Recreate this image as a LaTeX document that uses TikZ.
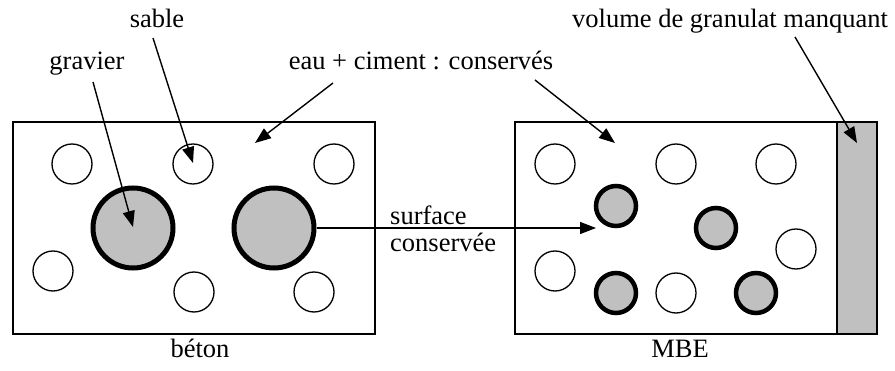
\documentclass[tikz,border=0pt]{standalone}
\usepackage{fontspec}
\setmainfont{Liberation Serif}[Ligatures=TeX]
\newfontfamily\tnr{Liberation Serif}
\usetikzlibrary{arrows.meta}
\definecolor{grain}{RGB}{192,192,192}
\tikzset{
  sand/.style={circle, draw, line width=1.3pt, fill=white, minimum size=40pt, inner sep=0pt},
  gravel/.style={circle, draw, line width=5pt, fill=grain, minimum size=80pt, inner sep=0pt},
  smallgravel/.style={circle, draw, line width=4.5pt, fill=grain, minimum size=40pt, inner sep=0pt},
  lbl/.style={font=\tnr\fontsize{26.5}{30}\selectfont, anchor=base, inner sep=0pt},
  arr/.style={line width=1.4pt, -{Triangle[length=16pt,width=12pt]}},
  frame/.style={draw, line width=1.4pt}
}
\begin{document}
\begin{tikzpicture}[x=1pt,y=-1pt]
\useasboundingbox (0,0) rectangle (895,371);
% boxes
\draw[frame] (13,122) rectangle (375,334);
\draw[frame, fill=grain] (837,122) rectangle (877,334);
\draw[frame] (515,122) rectangle (877,334);
% left box circles
\node[sand] (l1) at (72,164) {};
\node[sand] (l2) at (193,164) {};
\node[sand] (l3) at (334,164) {};
\node[sand] (l4) at (53,271) {};
\node[sand] (l5) at (194,292) {};
\node[sand] (l6) at (314,292) {};
\node[gravel] (g1) at (133,228) {};
\node[gravel] (g2) at (274,228) {};
% right box circles
\node[sand] (r1) at (555,164) {};
\node[sand] (r2) at (676,164) {};
\node[sand] (r3) at (776,164) {};
\node[sand] (r4) at (555,271) {};
\node[sand] (r5) at (676,293) {};
\node[sand] (r6) at (796,249) {};
\node[smallgravel] (s1) at (616,206) {};
\node[smallgravel] (s2) at (716,228) {};
\node[smallgravel] (s3) at (616,293) {};
\node[smallgravel] (s4) at (756,293) {};
% labels
\node[lbl] (sable) at (157,28) {sable};
\node[lbl] (gravier) at (87,70) {gravier};
\node[lbl] (eau) at (421,70) {eau + ciment : conservés};
\node[lbl] (vol) at (730,28) {volume de granulat manquant};
\node[lbl, anchor=base west] (surf) at (390,225) {surface};
\node[lbl, anchor=base west] (cons) at (390,252) {conservée};
\node[lbl] (beton) at (200,358) {béton};
\node[lbl] (mbe) at (680,358) {MBE};
% arrow targets
\coordinate (tg) at (133,227);
\coordinate (ts) at (193,163);
\coordinate (tel) at (255,143);
\coordinate (ter) at (615,143);
\coordinate (tv) at (857,143);
\coordinate (tsurf) at (596,228);
\coordinate (sg) at (93,82);
\coordinate (ss) at (153,38);
\coordinate (sel) at (333,83);
\coordinate (ser) at (535,80);
\coordinate (sv) at (795,37);
% arrows
\draw[arr] (sg) -- (tg);
\draw[arr] (ss) -- (ts);
\draw[arr] (sel) -- (tel);
\draw[arr] (ser) -- (ter);
\draw[arr] (sv) -- (tv);
\draw[arr] (g2.east) -- (tsurf);
\end{tikzpicture}
\end{document}
